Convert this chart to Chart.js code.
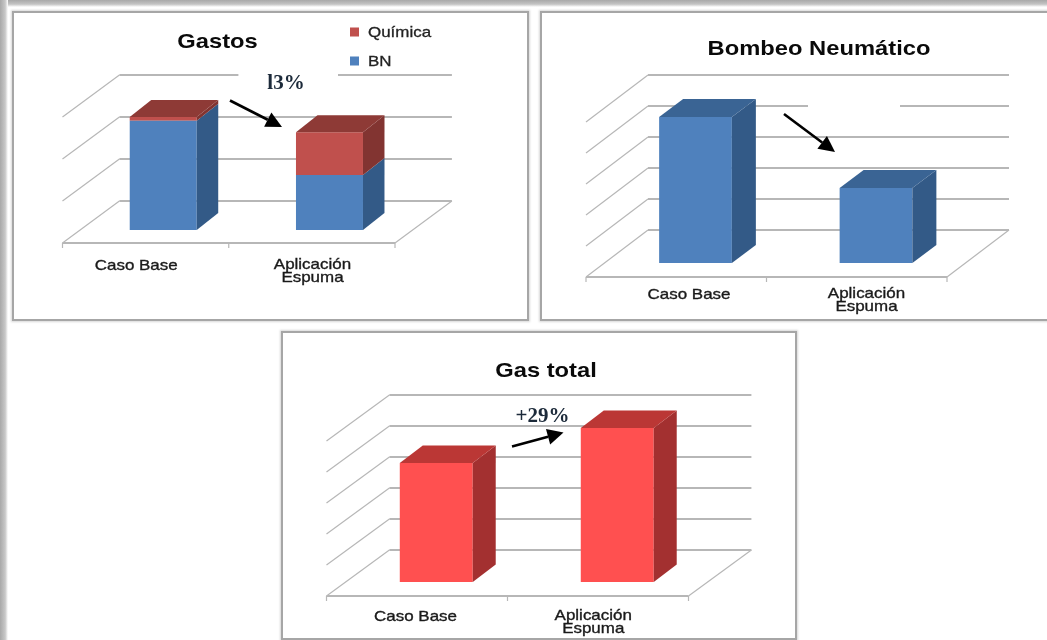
<!DOCTYPE html>
<html><head><meta charset="utf-8">
<style>
html,body{margin:0;padding:0;background:#fff;width:1047px;height:640px;overflow:hidden}
#edgeTop{position:absolute;left:0;top:0;width:1047px;height:7px;background:linear-gradient(#a8a8a8,#c4c4c4 60%,#fff)}
#edgeLeft{position:absolute;left:0;top:0;width:8px;height:640px;background:linear-gradient(90deg,#a8a8a8,#c8c8c8 65%,#fff)}
.panel{position:absolute;box-sizing:border-box;background:#fff;border:2px solid #a6a6a6;box-shadow:0 0 2px 1px #d8d8d8}
canvas{position:absolute;left:0;top:0;filter:blur(.35px)}
</style></head><body>
<div id="edgeTop"></div><div id="edgeLeft"></div>
<div class="panel" style="left:12px;top:11px;width:517px;height:310px"><canvas id="c1"></canvas></div>
<div class="panel" style="left:540px;top:11px;width:520px;height:310px"><canvas id="c2"></canvas></div>
<div class="panel" style="left:281px;top:331px;width:516px;height:309px"><canvas id="c3"></canvas></div>
<script src="https://cdn.jsdelivr.net/npm/chart.js@4/dist/chart.umd.min.js"></script>
<script>
// ---- data ----
const categories = ["Caso Base", ["Aplicación", "Espuma"]];
const gastosBN = [2.6, 1.31];
const gastosQuimica = [0.09, 1.02];
const bombeoBN = [4.71, 2.42];
const gasTotal = [3.84, 4.97];
const gastosGrid = [0, 1, 2, 3];
const fiveGrid = [0, 1, 2, 3, 4, 5];

const GRID = '#b7b7b7';
const SX = 1.13;

function stretched(ctx, text, cx, cy, font, color, weight) {
  ctx.save();
  ctx.font = font; ctx.fillStyle = color || '#111';
  ctx.textAlign = 'center'; ctx.textBaseline = 'middle';
  ctx.translate(cx, cy + 1); ctx.scale(SX, 1);
  ctx.fillText(text, 0, 0);
  if (weight) { ctx.strokeStyle = color || '#111'; ctx.lineWidth = weight; ctx.strokeText(text, 0, 0); }
  ctx.restore();
}
function poly(ctx, pts, fill) {
  ctx.beginPath();
  pts.forEach((p, i) => i ? ctx.lineTo(p[0], p[1]) : ctx.moveTo(p[0], p[1]));
  ctx.closePath(); ctx.fillStyle = fill; ctx.fill();
}
function arrow(ctx, x0, y0, x1, y1) {
  const a = Math.atan2(y1 - y0, x1 - x0), L = 16, W = 8;
  const bx = x1 - L * Math.cos(a), by = y1 - L * Math.sin(a);
  ctx.save();
  ctx.strokeStyle = '#000'; ctx.lineWidth = 2.6;
  ctx.beginPath(); ctx.moveTo(x0, y0); ctx.lineTo(bx, by); ctx.stroke();
  poly(ctx, [[x1, y1], [bx - W * Math.sin(a), by + W * Math.cos(a)], [bx + W * Math.sin(a), by - W * Math.cos(a)]], '#000');
  ctx.restore();
}

// 3D look: walls, floor, bar sides and tops are derived from the chart's own scales.
const threeD = {
  id: 'threeD',
  beforeDatasetsDraw(chart, _a, o) {
    const { ctx, chartArea: A, scales: { y } } = chart;
    const { front, back, gridValues, mask } = o;
    ctx.save();
    ctx.strokeStyle = GRID;
    const L = A.left, R = A.right;
    gridValues.forEach(v => {
      const py = y.getPixelForValue(v) + back.y;
      ctx.lineWidth = 1.2;
      ctx.beginPath();
      ctx.moveTo(L + front.x, py - back.y + front.y);
      ctx.lineTo(L + back.x, py);
      ctx.stroke();
      ctx.lineWidth = 1.8;
      ctx.beginPath();
      ctx.moveTo(L + back.x, py);
      ctx.lineTo(R + back.x, py);
      ctx.stroke();
    });
    const fy = y.getPixelForValue(0) + front.y, by = y.getPixelForValue(0) + back.y;
    ctx.lineWidth = 1.8;
    ctx.beginPath();
    ctx.moveTo(L + front.x, fy); ctx.lineTo(R + front.x, fy);
    ctx.stroke();
    ctx.lineWidth = 1.2;
    ctx.beginPath();
    ctx.moveTo(R + front.x, fy); ctx.lineTo(R + back.x, by);
    ctx.stroke();
    // tick marks under the front edge
    const band = (R - L) / categories.length;
    for (let i = 0; i <= categories.length; i++) {
      const tx = L + front.x + i * band;
      ctx.beginPath(); ctx.moveTo(tx, fy); ctx.lineTo(tx, fy + 5); ctx.stroke();
    }
    if (mask) { ctx.fillStyle = '#fff'; ctx.fillRect(mask.x, mask.y, mask.w, mask.h); }
    ctx.restore();
  },
  afterDatasetsDraw(chart, _a, o) {
    const { ctx } = chart;
    const d = o.barDepth;
    chart.data.datasets.forEach((ds, i) => {
      const meta = chart.getDatasetMeta(i);
      meta.data.forEach((b) => {
        const r = b.x + b.width / 2, l = b.x - b.width / 2;
        poly(ctx, [[r, b.y], [r + d.x, b.y + d.y], [r + d.x, b.base + d.y], [r, b.base]], o.side[i]);
        if (i === chart.data.datasets.length - 1) {
          poly(ctx, [[l, b.y], [l + d.x, b.y + d.y], [r + d.x, b.y + d.y], [r, b.y]], o.top[i]);
        }
      });
    });
  },
  afterDraw(chart, _a, o) {
    const { ctx, scales: { x } } = chart;
    const F = '15px "Liberation Sans"';
    categories.forEach((c, i) => {
      const cx = x.getPixelForTick(i) + o.labelDx[i];
      if (Array.isArray(c)) {
        stretched(ctx, c[0], cx, o.labelY - 1, F, '#1a1a1a', 0.35);
        stretched(ctx, c[1], cx, o.labelY + 12, F, '#1a1a1a', 0.35);
      } else stretched(ctx, c, cx, o.labelY, F, '#1a1a1a', 0.35);
    });
    stretched(ctx, o.title.text, o.title.x, o.title.y, 'bold 21px "Liberation Sans"', '#0a0a0a');
    if (o.legend) {
      o.legend.forEach(l => {
        const ds = chart.data.datasets[l.index];
        ctx.fillStyle = ds.backgroundColor;
        ctx.fillRect(l.x, l.y - 4.5, 9, 9);
        ctx.save();
        ctx.font = '15px "Liberation Sans"'; ctx.fillStyle = '#222';
        ctx.strokeStyle = '#222'; ctx.lineWidth = 0.3;
        ctx.textAlign = 'left'; ctx.textBaseline = 'middle';
        ctx.translate(l.x + 18, l.y + 1); ctx.scale(SX, 1);
        ctx.fillText(ds.label, 0, 0); ctx.strokeText(ds.label, 0, 0);
        ctx.restore();
      });
    }
    if (o.note) {
      ctx.save();
      ctx.font = 'bold 21px "Liberation Serif"'; ctx.fillStyle = '#1c2a3a';
      ctx.textAlign = 'center'; ctx.textBaseline = 'middle';
      ctx.fillText(o.note.text, o.note.x, o.note.y);
      ctx.restore();
    }
    arrow(ctx, ...o.arrow);
  }
};

function build(id, W, H, area, yMax, datasets, plug) {
  const cv = document.getElementById(id);
  cv.width = W; cv.height = H; cv.style.width = W + 'px'; cv.style.height = H + 'px';
  return new Chart(cv, {
    type: 'bar',
    data: { labels: categories.map(c => Array.isArray(c) ? c.join(' ') : c), datasets },
    options: {
      responsive: false, animation: false, devicePixelRatio: 1,
      layout: { padding: { left: area.l, top: area.t, right: W - area.r, bottom: H - area.b } },
      datasets: { bar: { categoryPercentage: 1, barPercentage: 0.403 } },
      scales: {
        x: { display: false, stacked: true },
        y: { display: false, stacked: true, min: 0, max: yMax }
      },
      plugins: { legend: { display: false }, title: { display: false }, tooltip: { enabled: false }, threeD: plug }
    },
    plugins: [threeD]
  });
}

const BLUE = '#4f81bd', RED = '#c0504d', BRIGHT = '#ff5050';

// Panel 1 (origin 14,13 inside the border)
build('c1', 513, 306, { l: 80.1 - 14, r: 412.6 - 14, t: 104 - 13, b: 230 - 13 }, 3, [
  { label: 'BN', data: gastosBN, backgroundColor: BLUE },
  { label: 'Química', data: gastosQuimica, backgroundColor: RED }
], {
  front: { x: -17.6, y: 13 }, back: { x: 39.3, y: -29 }, barDepth: { x: 21.5, y: -17 },
  gridValues: gastosGrid, side: ['#335a87', '#823431'], top: ['#3a6494', '#8e3a36'],
  mask: { x: 238.4 - 14, y: 70 - 13, w: 99.6, h: 11 },
  labelDx: [-27, -17], labelY: 265 - 13,
  title: { text: 'Gastos', x: 217.5 - 14, y: 41 - 13 },
  legend: [{ index: 1, x: 350 - 14, y: 32 - 13 }, { index: 0, x: 350 - 14, y: 61 - 13 }],
  note: { text: 'l3%', x: 286 - 14, y: 84 - 13 },
  arrow: [230 - 14, 100.5 - 13, 282 - 14, 127 - 13]
});

// Panel 2 (origin 542,13)
build('c2', 516, 306, { l: 605.25 - 542, r: 966.25 - 542, t: 108 - 13, b: 263 - 13 }, 5, [
  { label: 'BN', data: bombeoBN, backgroundColor: BLUE }
], {
  front: { x: -19.25, y: 14 }, back: { x: 42.75, y: -33 }, barDepth: { x: 24, y: -18 },
  gridValues: fiveGrid, side: ['#335a87'], top: ['#3a6494'],
  mask: { x: 808 - 542, y: 101 - 13, w: 92, h: 10 },
  labelDx: [-6.5, -9.5], labelY: 294 - 13,
  title: { text: 'Bombeo Neumático', x: 819 - 542, y: 48 - 13 },
  arrow: [784 - 542, 114 - 13, 835 - 542, 152 - 13]
});

// Panel 3 (origin 283,333)
build('c3', 512, 305, { l: 345.75 - 283, r: 707.75 - 283, t: 427 - 333, b: 582 - 333 }, 5, [
  { label: 'Gas total', data: gasTotal, backgroundColor: BRIGHT }
], {
  front: { x: -19.25, y: 14 }, back: { x: 43.65, y: -32 }, barDepth: { x: 23, y: -17.5 },
  gridValues: fiveGrid, side: ['#a33030'], top: ['#bb3735'],
  labelDx: [-20.75, -24], labelY: 616 - 333,
  title: { text: 'Gas total', x: 546 - 283, y: 370 - 333 },
  note: { text: '+29%', x: 542.5 - 283, y: 417 - 333 },
  arrow: [512 - 283, 446.5 - 333, 563.5 - 283, 432.5 - 333]
});
</script>
</body></html>
